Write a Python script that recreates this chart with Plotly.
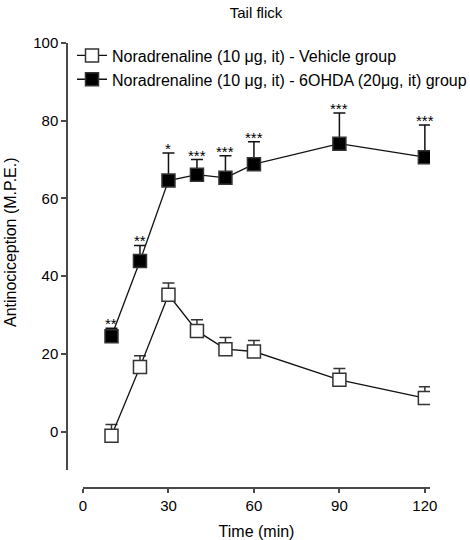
import plotly.graph_objects as go

times = [10, 20, 30, 40, 50, 60, 90, 120]
vehicle_mean = [-1.1, 16.6, 35.2, 25.9, 21.2, 20.6, 13.3, 8.6]
vehicle_sem = [2.9, 2.9, 3.0, 2.9, 3.0, 2.8, 2.9, 2.9]
ohda_mean = [24.5, 43.9, 64.6, 66.1, 65.3, 68.8, 74.1, 70.6]
ohda_sem = [2.1, 4.0, 7.1, 3.9, 5.7, 5.8, 7.9, 8.3]
sig_labels = ["**", "**", "*", "***", "***", "***", "***", "***"]
x_ticks = [0, 30, 60, 90, 120]
y_ticks = [0, 20, 40, 60, 80, 100]

FONT = "Liberation Sans, Arial, sans-serif"
AX = "#4a4a4a"

fig = go.Figure()
fig.add_trace(go.Scatter(
    x=times, y=vehicle_mean, mode="lines+markers",
    name="Noradrenaline (10 μg, it) - Vehicle group",
    line=dict(color="#111111", width=1.3),
    marker=dict(symbol="square", size=13, color="white",
                line=dict(color="#333333", width=1.5)),
    error_y=dict(type="data", array=vehicle_sem, arrayminus=[0]*len(times),
                 symmetric=False, color="#333333", thickness=1.5, width=6),
))
fig.add_trace(go.Scatter(
    x=times, y=ohda_mean, mode="lines+markers",
    name="Noradrenaline (10 μg, it) - 6OHDA (20μg, it) group",
    line=dict(color="#111111", width=1.3),
    marker=dict(symbol="square", size=13, color="black",
                line=dict(color="#333333", width=1.5)),
    error_y=dict(type="data", array=ohda_sem, arrayminus=[0]*len(times),
                 symmetric=False, color="#111111", thickness=1.5, width=6),
))

for t, m, s, lab in zip(times, ohda_mean, ohda_sem, sig_labels):
    fig.add_annotation(x=t, y=m + s, text=lab, showarrow=False,
                       xref="x", yref="y", yanchor="bottom", yshift=-6,
                       font=dict(family=FONT, size=15, color="#000000"))

fig.add_annotation(text="Antinociception (M.P.E.)", textangle=-90,
                   xref="paper", yref="paper", x=(10 - 67) / 363, y=(488 - 242) / 445,
                   xanchor="center", yanchor="middle", showarrow=False,
                   font=dict(family=FONT, size=16, color="black"))

fig.update_layout(
    width=470, height=540,
    margin=dict(l=67, r=40, t=43, b=52, autoexpand=False),
    plot_bgcolor="white", paper_bgcolor="white",
    font=dict(family=FONT, size=15, color="black"),
    title=dict(text="Tail flick", x=(256 - 67) / 363, xref="paper", xanchor="center",
               y=1 - 13 / 540, yanchor="middle",
               font=dict(family=FONT, size=15, color="black")),
    showlegend=True,
    legend=dict(x=5 / 363, y=1.01, xanchor="left", yanchor="top",
                bgcolor="rgba(0,0,0,0)", font=dict(family=FONT, size=16, color="black"),
                tracegroupgap=0, itemwidth=30),
    xaxis=dict(domain=[16 / 363, 1], range=[0, 121.8], anchor="free", position=0,
               automargin=False,
               tickvals=x_ticks, ticks="outside", ticklen=4, tickwidth=1.5,
               tickcolor=AX, showline=True, linecolor=AX, linewidth=1.5,
               showgrid=False, zeroline=False,
               title=dict(text="Time (min)", standoff=12,
                          font=dict(family=FONT, size=16, color="black")),
               tickfont=dict(family=FONT, size=15, color="black")),
    yaxis=dict(domain=[18 / 445, 1], range=[-9.9, 100], anchor="free", position=0,
               automargin=False,
               tickvals=y_ticks, ticks="outside", ticklen=5, tickwidth=1.5,
               tickcolor=AX, showline=True, linecolor=AX, linewidth=1.5,
               showgrid=False, zeroline=False,
               tickfont=dict(family=FONT, size=15, color="black")),
)

fig.write_html("out.html", config={"displayModeBar": False},
               post_script="document.body.style.margin='0';document.body.style.overflow='hidden';")
